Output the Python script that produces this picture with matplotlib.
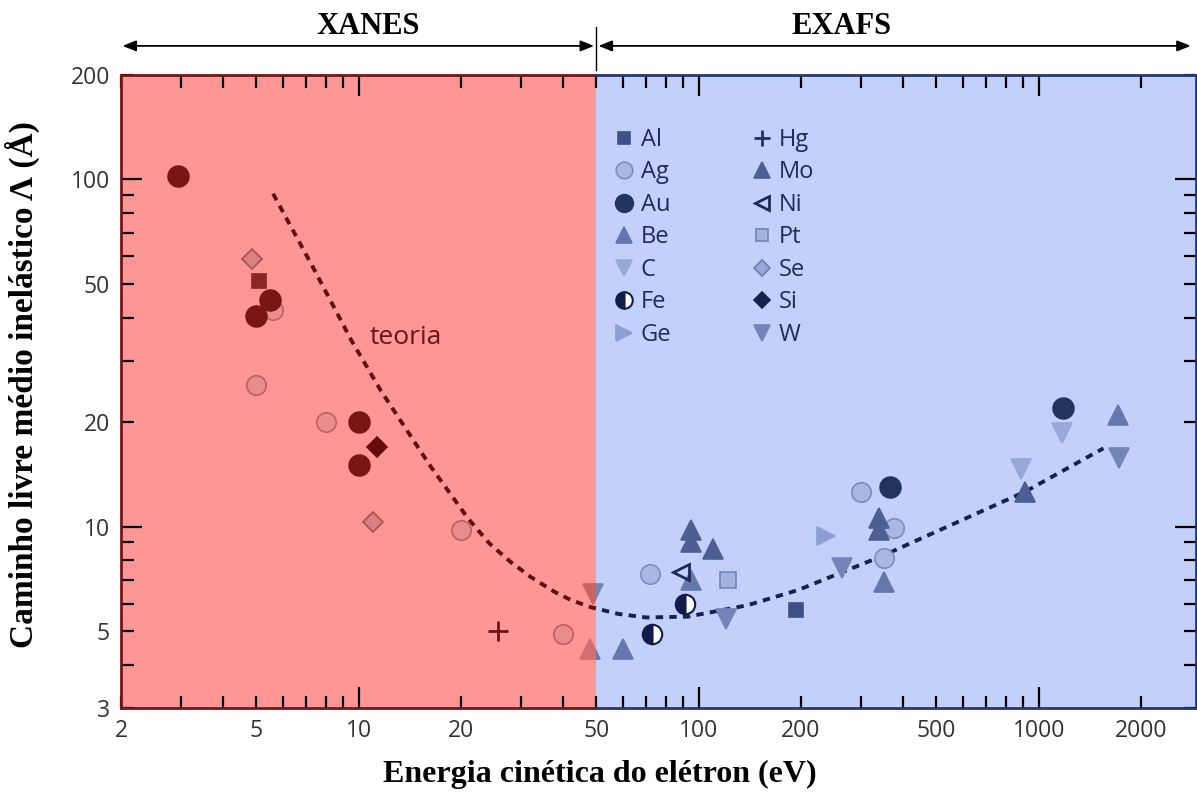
import numpy as np
import matplotlib.pyplot as plt
from matplotlib.lines import Line2D
from matplotlib.ticker import LogLocator, FuncFormatter

# --- data: kinetic energy (eV) / inelastic mean free path (A) ---
al_e = [5.1, 193]
al_l = [51, 5.75]
ag_e = [5.6, 5.0, 8.0, 20, 40, 72, 300, 375, 350]
ag_l = [42, 25.5, 20, 9.8, 4.9, 7.3, 12.6, 9.9, 8.1]
au_e = [2.95, 5.5, 5.0, 10, 10, 365, 1180]
au_l = [102, 45, 40.5, 20, 15, 13, 22]
be_e = [48, 60, 95, 350, 1710]
be_l = [4.45, 4.45, 7.0, 6.9, 21]
c_e = [890, 1170]
c_l = [14.6, 18.6]
fe_e = [73, 91]
fe_l = [4.9, 6.0]
ge_e = [237]
ge_l = [9.4]
hg_e = [25.7]
hg_l = [5.0]
mo_e = [95, 95, 110, 340, 340, 910]
mo_l = [9.8, 9.0, 8.6, 10.6, 9.8, 12.6]
ni_e = [89]
ni_l = [7.4]
pt_e = [122]
pt_l = [7.0]
se_e = [4.85, 11]
se_l = [59, 10.3]
si_e = [11.3]
si_l = [17]
w_e = [49, 120, 264, 1720]
w_l = [6.4, 5.4, 7.6, 15.8]

# "teoria" curve, points
theory_e = [5.6, 7.4, 9.5, 11.6, 16.2, 20.9, 24.2, 28, 32.1, 37.8, 42.1, 48,
            58, 70, 93, 139, 196, 344, 912, 1550]
theory_l = [91, 55, 34.5, 24.7, 15.0, 10.6, 8.95, 7.9, 7.15, 6.47, 6.14, 5.86,
            5.6, 5.47, 5.5, 5.93, 6.56, 8.2, 12.6, 16.8]

x_labels = [2, 5, 10, 20, 50, 100, 200, 500, 1000, 2000]
y_labels = [3, 5, 10, 20, 50, 100, 200]

XMIN, XSPLIT, XMAX = 2, 50, 2900
YMIN, YMAX = 3, 200

RED_BG, BLUE_BG = '#fe9696', '#c2d0fa'
RED_INK, BLUE_INK = '#761515', '#26366e'

# marker, size, (blue face, blue edge), (red face, red edge)
styles = {
    'Ag': ('o', 14, ('#a9b8e3', '#7c8cbd'), ('#e98c8c', '#c05f5f')),
    'C':  ('v', 14, ('#97a8d8', '#97a8d8'), ('#e58585', '#e58585')),
    'Ge': ('>', 13, ('#8d9ed2', '#8d9ed2'), ('#e08080', '#e08080')),
    'Pt': ('s', 11, ('#a3b3e0', '#7585b8'), ('#e48888', '#b85c5c')),
    'Se': ('D', 10, ('#98a8d8', '#6e7eb2'), ('#d98080', '#aa5050')),
    'W':  ('v', 14, ('#7484b8', '#7484b8'), ('#c86464', '#c86464')),
    'Be': ('^', 14, ('#6677ab', '#6677ab'), ('#d07070', '#d07070')),
    'Mo': ('^', 14, ('#4d5e93', '#4d5e93'), ('#9a3333', '#9a3333')),
    'Al': ('s', 10, ('#3e5086', '#3e5086'), ('#8a2626', '#8a2626')),
    'Au': ('o', 15, ('#22335f', '#22335f'), ('#7a1515', '#7a1515')),
    'Si': ('D', 10, ('#16214f', '#16214f'), ('#650b0b', '#650b0b')),
    'Hg': ('+', 14, ('#22305c', '#22305c'), ('#6a1212', '#6a1212')),
    'Ni': ('<', 12, ('none', '#1e2b5a'), ('none', '#6a1212')),
    'Fe': ('o', 14, ('#121c48', '#121c48'), ('#5c0a0a', '#5c0a0a')),
}
series = {
    'Ag': (ag_e, ag_l), 'C': (c_e, c_l), 'Ge': (ge_e, ge_l), 'Pt': (pt_e, pt_l),
    'Se': (se_e, se_l), 'W': (w_e, w_l), 'Be': (be_e, be_l), 'Mo': (mo_e, mo_l),
    'Al': (al_e, al_l), 'Au': (au_e, au_l), 'Si': (si_e, si_l), 'Hg': (hg_e, hg_l),
    'Ni': (ni_e, ni_l), 'Fe': (fe_e, fe_l),
}


def marker_kw(name, tone, scale=1.0):
    mk, ms, blue, red = styles[name]
    face, edge = blue if tone == 'blue' else red
    kw = dict(linestyle='none', marker=mk, markersize=ms * scale,
              markerfacecolor=face, markeredgecolor=edge, markeredgewidth=1.2)
    if name == 'Fe':
        kw.update(fillstyle='left', markerfacecoloralt='white', markeredgewidth=1.5)
    if name in ('Hg', 'Ni'):
        kw['markeredgewidth'] = 2.0
    return kw


fig = plt.figure(figsize=(11.97, 7.98), dpi=100)
ax = fig.add_axes([0.1011, 0.1128, 0.898, 0.7932])
ax.set_xscale('log')
ax.set_yscale('log')
ax.set_xlim(XMIN, XMAX)
ax.set_ylim(YMIN, YMAX)

red_span = ax.axvspan(XMIN, XSPLIT, color=RED_BG, lw=0, zorder=0)
blue_span = ax.axvspan(XSPLIT, XMAX, color=BLUE_BG, lw=0, zorder=0)

# theory curve, coloured by region
for span, ink in ((red_span, '#5e0f0f'), (blue_span, '#17214d')):
    ln, = ax.plot(theory_e, theory_l, color=ink, lw=2.8, dashes=(1.9, 1.6), zorder=2)
    ln.set_clip_path(span)

# points, drawn twice and clipped so each region gets its tint
for name, (e, l) in series.items():
    for span, tone in ((red_span, 'red'), (blue_span, 'blue')):
        ln, = ax.plot(e, l, zorder=3, **marker_kw(name, tone))
        ln.set_clip_path(span)

ax.text(10.8, 35, 'teoria', fontsize=19, family='Open Sans', color='#6a1616',
        ha='left', va='center')

# legend
order = ['Al', 'Ag', 'Au', 'Be', 'C', 'Fe', 'Ge', 'Hg', 'Mo', 'Ni', 'Pt', 'Se', 'Si', 'W']
handles = [Line2D([], [], label=n, **marker_kw(n, 'blue', 0.85)) for n in order]
leg = ax.legend(handles=handles, ncol=2, loc='upper left', frameon=False,
                bbox_to_anchor=(602 / 1197, 1 - 116 / 798), bbox_transform=fig.transFigure,
                prop={'family': 'Open Sans', 'size': 17}, labelcolor='#1f2b5a',
                handlelength=0.85, handletextpad=0.3, columnspacing=3.4,
                labelspacing=0.36, borderpad=0)

# ticks
ax.xaxis.set_major_locator(LogLocator(base=10, numticks=10))
ax.xaxis.set_minor_locator(LogLocator(base=10, subs=np.arange(2, 10), numticks=50))
ax.yaxis.set_major_locator(LogLocator(base=10, numticks=10))
ax.yaxis.set_minor_locator(LogLocator(base=10, subs=np.arange(2, 10), numticks=50))


def make_fmt(labels):
    def f(v, pos):
        return f'{v:g}' if any(np.isclose(v, t) for t in labels) else ''
    return FuncFormatter(f)


for axis, labels in ((ax.xaxis, x_labels), (ax.yaxis, y_labels)):
    axis.set_major_formatter(make_fmt(labels))
    axis.set_minor_formatter(make_fmt(labels))

ax.tick_params(which='both', direction='in', top=True, right=True,
               labelsize=16.5, labelcolor='#333333')
ax.tick_params(which='major', length=15, width=1.6, pad=8)
ax.tick_params(which='minor', length=9, width=1.6, pad=8)
for lab in ax.get_xticklabels(which='both') + ax.get_yticklabels(which='both'):
    lab.set_family('Open Sans')

for which in ('major', 'minor'):
    minor = which == 'minor'
    locs = ax.xaxis.get_minorticklocs() if minor else ax.xaxis.get_majorticklocs()
    ticks = ax.xaxis.get_minor_ticks(len(locs)) if minor else ax.xaxis.get_major_ticks(len(locs))
    for t, v in zip(ticks, locs):
        c = RED_INK if v < XSPLIT else BLUE_INK
        t.tick1line.set_color(c)
        t.tick2line.set_color(c)
    locs = ax.yaxis.get_minorticklocs() if minor else ax.yaxis.get_majorticklocs()
    ticks = ax.yaxis.get_minor_ticks(len(locs)) if minor else ax.yaxis.get_major_ticks(len(locs))
    for t in ticks:
        t.tick1line.set_color(RED_INK)
        t.tick2line.set_color(BLUE_INK)

# frame, split by region
for side in ('top', 'bottom'):
    ax.spines[side].set_visible(False)
ax.spines['left'].set_color(RED_INK)
ax.spines['right'].set_color(BLUE_INK)
ax.spines['left'].set_linewidth(2)
ax.spines['right'].set_linewidth(2)
trans = ax.get_xaxis_transform()
for yy in (0, 1):
    ax.plot([XMIN, XSPLIT], [yy, yy], transform=trans, color=RED_INK, lw=2, clip_on=False, zorder=5)
    ax.plot([XSPLIT, XMAX], [yy, yy], transform=trans, color=BLUE_INK, lw=2, clip_on=False, zorder=5)

# XANES / EXAFS arrows above the plot
arrow = dict(arrowstyle='<|-|>,head_length=0.45,head_width=0.18', color='black',
             lw=1.3, shrinkA=0, shrinkB=0, mutation_scale=18)
ax.annotate('', xy=(XMIN * 1.01, 1.046), xytext=(XSPLIT * 0.985, 1.046),
            xycoords=trans, textcoords=trans, arrowprops=arrow)
ax.annotate('', xy=(XSPLIT * 1.015, 1.046), xytext=(2800, 1.046),
            xycoords=trans, textcoords=trans, arrowprops=arrow)
ax.plot([XSPLIT, XSPLIT], [1.008, 1.076], transform=trans, color='black', lw=1, clip_on=False)
ax.text(0.2296, 1.076, 'XANES', transform=ax.transAxes, ha='center', va='center',
        family='Liberation Serif', weight='bold', fontsize=22)
ax.text(0.670, 1.076, 'EXAFS', transform=ax.transAxes, ha='center', va='center',
        family='Liberation Serif', weight='bold', fontsize=22)

fig.text(22 / 1197, 0.518, 'Caminho livre médio inelástico Λ (Å)', rotation=90,
         ha='center', va='center', family='Liberation Serif', weight='bold', fontsize=24)
fig.text(0.501, 0.029, 'Energia cinética do elétron (eV)', ha='center', va='center',
         family='Liberation Serif', weight='bold', fontsize=23)

fig.savefig('out.png', dpi=100, facecolor='white')
